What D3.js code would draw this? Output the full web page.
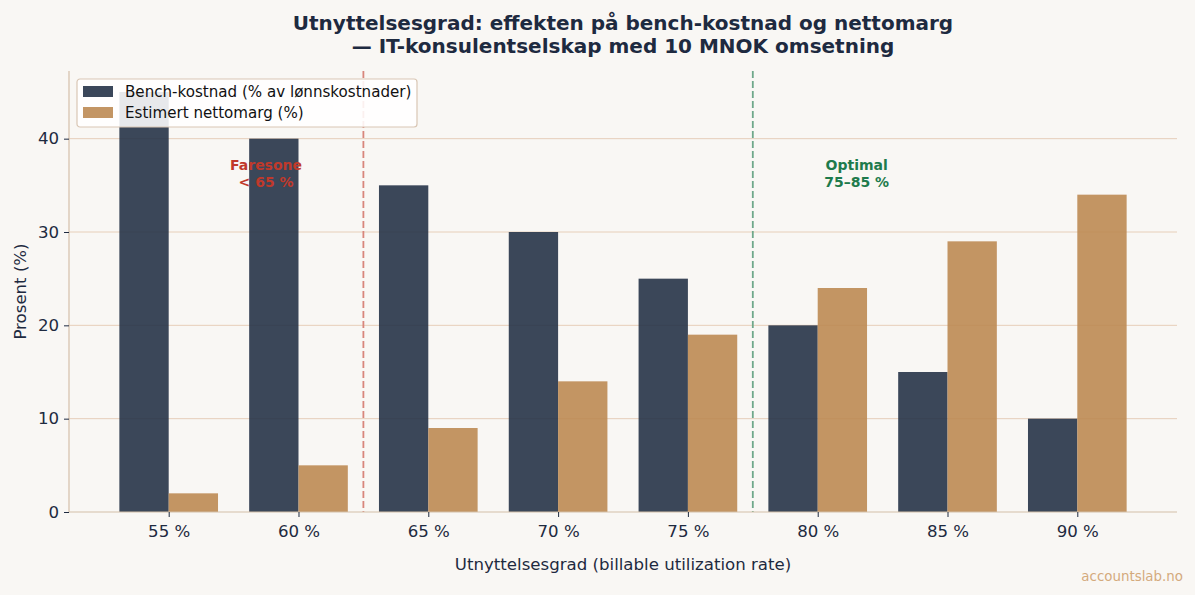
<!DOCTYPE html>
<html>
<head>
<meta charset="utf-8">
<script src="https://cdn.jsdelivr.net/npm/d3@7"></script>
<style>
  html, body { margin: 0; padding: 0; background: #f9f7f4; }
  svg { display: block; }
</style>
</head>
<body>
<svg id="chart"></svg>
<script>
// data
const categories = ["55 %", "60 %", "65 %", "70 %", "75 %", "80 %", "85 %", "90 %"];
const benchCost = [45, 40, 35, 30, 25, 20, 15, 10];
const netMargin = [2, 5, 9, 14, 19, 24, 29, 34];
const yTicks = [0, 10, 20, 30, 40];
const seriesNames = ["Bench-kostnad (% av lønnskostnader)", "Estimert nettomarg (%)"];
const zoneLines = [1.5, 4.5]; // between 60/65 and 75/80
const notes = [
  { x: 0.75, y: 36.2, lines: ["Faresone", "< 65 %"], color: "#c0392b" },
  { x: 5.3, y: 36.2, lines: ["Optimal", "75–85 %"], color: "#1e7b4c" }
];

const width = 1195, height = 595;
const marginLeft = 69, marginRight = 18, marginTop = 71, marginBottom = 83;
const textColor = "#1e2a40";
const spineColor = "#d4bfa8";
const barColors = ["#263348", "#bc8a53"];
const font = "DejaVu Sans";

const svg = d3.select("#chart")
  .attr("width", width)
  .attr("height", height)
  .attr("viewBox", [0, 0, width, height]);

svg.append("rect").attr("width", width).attr("height", height).attr("fill", "#f9f7f4");

const barW = 0.38;
const x = d3.scaleLinear([-0.768, categories.length - 1 + 0.768], [marginLeft, width - marginRight]);
const y = d3.scaleLinear([0, 47.25], [height - marginBottom, marginTop]);

// grid
svg.append("g")
  .selectAll("line")
  .data(yTicks.filter(d => d > 0))
  .join("line")
    .attr("x1", marginLeft)
    .attr("x2", width - marginRight)
    .attr("y1", d => y(d))
    .attr("y2", d => y(d))
    .attr("stroke", "#e4c9b2")
    .attr("stroke-width", 0.9);

// bars
const series = [benchCost, netMargin];
series.forEach((vals, s) => {
  svg.append("g")
    .selectAll("rect")
    .data(vals)
    .join("rect")
      .attr("x", (d, i) => x(i + (s === 0 ? -barW : 0)))
      .attr("y", d => y(d))
      .attr("width", x(barW) - x(0))
      .attr("height", d => y(0) - y(d))
      .attr("fill", barColors[s])
      .attr("fill-opacity", 0.9);
});

// zone lines
svg.append("g")
  .selectAll("line")
  .data(zoneLines)
  .join("line")
    .attr("x1", d => x(d))
    .attr("x2", d => x(d))
    .attr("y1", marginTop)
    .attr("y2", y(0))
    .attr("stroke", (d, i) => i === 0 ? "#d8867c" : "#6fa88a")
    .attr("stroke-width", 1.8)
    .attr("stroke-dasharray", "7,3");

// annotations
notes.forEach(n => {
  const t = svg.append("text")
    .attr("x", x(n.x))
    .attr("y", y(n.y))
    .attr("text-anchor", "middle")
    .attr("fill", n.color)
    .style("font-family", font)
    .style("font-weight", "bold")
    .style("font-size", "14px");
  n.lines.forEach((l, i) => {
    t.append("tspan")
      .attr("x", x(n.x))
      .attr("dy", i === 0 ? "-0.3em" : "1.2em")
      .text(l);
  });
});

// spines
svg.append("line")
  .attr("x1", marginLeft).attr("x2", marginLeft)
  .attr("y1", marginTop).attr("y2", y(0))
  .attr("stroke", spineColor).attr("stroke-width", 1.2);
svg.append("line")
  .attr("x1", marginLeft).attr("x2", width - marginRight)
  .attr("y1", y(0)).attr("y2", y(0))
  .attr("stroke", spineColor).attr("stroke-width", 1.2);

// y axis
const yAxis = svg.append("g")
  .attr("transform", `translate(${marginLeft},0)`)
  .call(d3.axisLeft(y).tickValues(yTicks).tickSize(5).tickPadding(5))
  .call(g => g.select(".domain").remove());
yAxis.selectAll(".tick line").attr("stroke", textColor);
yAxis.selectAll(".tick text")
  .attr("fill", textColor)
  .style("font-family", font)
  .style("font-size", "16.6px");

// x axis
const xAxis = svg.append("g")
  .attr("transform", `translate(0,${y(0)})`)
  .call(d3.axisBottom(x).tickValues(d3.range(categories.length)).tickFormat(i => categories[i]).tickSize(5).tickPadding(8))
  .call(g => g.select(".domain").remove());
xAxis.selectAll(".tick line").attr("stroke", textColor);
xAxis.selectAll(".tick text")
  .attr("fill", textColor)
  .style("font-family", font)
  .style("font-size", "16.6px");

// axis labels
svg.append("text")
  .attr("x", (marginLeft + width - marginRight) / 2)
  .attr("y", 570)
  .attr("text-anchor", "middle")
  .attr("fill", textColor)
  .style("font-family", font)
  .style("font-size", "16.6px")
  .text("Utnyttelsesgrad (billable utilization rate)");

svg.append("text")
  .attr("transform", `translate(26,${(marginTop + y(0)) / 2}) rotate(-90)`)
  .attr("text-anchor", "middle")
  .attr("fill", textColor)
  .style("font-family", font)
  .style("font-size", "16.6px")
  .text("Prosent (%)");

// title
const title = svg.append("text")
  .attr("x", (marginLeft + width - marginRight) / 2)
  .attr("text-anchor", "middle")
  .attr("fill", textColor)
  .style("font-family", font)
  .style("font-weight", "bold")
  .style("font-size", "20px");
title.append("tspan").attr("x", (marginLeft + width - marginRight) / 2).attr("y", 30)
  .text("Utnyttelsesgrad: effekten på bench-kostnad og nettomarg");
title.append("tspan").attr("x", (marginLeft + width - marginRight) / 2).attr("y", 53)
  .text("— IT-konsulentselskap med 10 MNOK omsetning");

// legend
const legend = svg.append("g").attr("transform", "translate(77,79)");
legend.append("rect")
  .attr("width", 340).attr("height", 48)
  .attr("rx", 3)
  .attr("fill", "#ffffff").attr("fill-opacity", 0.88)
  .attr("stroke", "#d9c6b4").attr("stroke-width", 1.2);
seriesNames.forEach((name, i) => {
  legend.append("rect")
    .attr("x", 6).attr("y", 7 + i * 21)
    .attr("width", 30).attr("height", 11)
    .attr("fill", barColors[i])
    .attr("fill-opacity", 0.9);
  legend.append("text")
    .attr("x", 48).attr("y", 13 + i * 21)
    .attr("dy", "0.35em")
    .attr("fill", "#111")
    .style("font-family", font)
    .style("font-size", "15.1px")
    .text(name);
});

// watermark
svg.append("text")
  .attr("x", 1183).attr("y", 581)
  .attr("text-anchor", "end")
  .attr("fill", "#d4aa7c")
  .style("font-family", font)
  .style("font-size", "13.4px")
  .text("accountslab.no");
</script>
</body>
</html>
